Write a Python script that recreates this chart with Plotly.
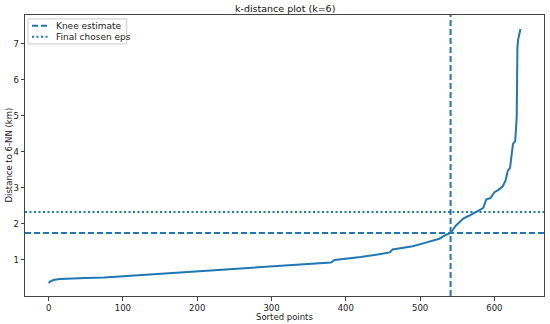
import plotly.graph_objects as go

# Sorted point index vs distance to 6th nearest neighbour
sorted_idx = [0, 2, 5, 8, 15, 30, 50, 75, 100, 130, 160, 180, 200, 230, 260, 300,
              330, 360, 380, 385, 400, 420, 445, 459, 463, 470, 490, 504, 526, 535,
              541, 548, 558, 565, 575, 580, 585, 589, 595, 600, 605, 611, 615, 618,
              621, 625, 628, 629, 630, 631, 632, 635]
kdist_km = [0.36, 0.40, 0.43, 0.45, 0.47, 0.49, 0.50, 0.515, 0.55, 0.58, 0.615, 0.645,
            0.67, 0.715, 0.77, 0.83, 0.87, 0.90, 0.93, 1.00, 1.03, 1.08, 1.16, 1.21,
            1.29, 1.31, 1.38, 1.46, 1.59, 1.70, 1.75, 1.95, 2.15, 2.22, 2.32, 2.38,
            2.45, 2.68, 2.72, 2.88, 2.94, 3.04, 3.20, 3.48, 3.55, 4.22, 4.30, 4.86,
            4.95, 6.90, 7.12, 7.41]

knee_index = 541
knee_eps = 1.75
final_eps = 2.33

x_ticks = [0, 100, 200, 300, 400, 500, 600]
y_ticks = [1, 2, 3, 4, 5, 6, 7]

legend_labels = ["Knee estimate", "Final chosen eps"]

BLUE = "#1f77b4"
FONT = "DejaVu Sans"
TXT = "#222"
DASH = "6px,3px"
DOT = "2px,2.5px"

fig = go.Figure()
fig.add_trace(go.Scatter(x=sorted_idx, y=kdist_km, mode="lines",
                         line=dict(color=BLUE, width=2), showlegend=False))

# reference lines
fig.add_shape(type="line", xref="x", yref="paper", x0=knee_index, x1=knee_index,
              y0=0, y1=1, line=dict(color=BLUE, width=2, dash=DASH))
fig.add_shape(type="line", xref="paper", yref="y", x0=0, x1=1,
              y0=knee_eps, y1=knee_eps, line=dict(color=BLUE, width=2, dash=DASH))
fig.add_shape(type="line", xref="paper", yref="y", x0=0, x1=1,
              y0=final_eps, y1=final_eps, line=dict(color=BLUE, width=2, dash=DOT))

# compact matplotlib-style legend (box + handles + labels)
fig.add_shape(type="rect", xref="paper", yref="paper", x0=0.006, x1=0.196,
              y0=0.897, y1=0.986, line=dict(color="#cccccc", width=1),
              fillcolor="rgba(255,255,255,0.85)", layer="above")
for lbl, dash, yy in zip(legend_labels, [DASH, DOT], [0.962, 0.923]):
    fig.add_shape(type="line", xref="paper", yref="paper", x0=0.0135, x1=0.0445,
                  y0=yy, y1=yy, line=dict(color=BLUE, width=2, dash=dash), layer="above")
    fig.add_annotation(text=lbl, xref="paper", yref="paper", x=0.056, y=yy,
                       xanchor="left", yanchor="middle", showarrow=False,
                       font=dict(family=FONT, size=9, color=TXT))

axis_common = dict(showgrid=False, zeroline=False, showline=True, mirror=True,
                   linecolor="#444", linewidth=1, ticks="outside", ticklen=3.5,
                   tickcolor="#444", tickfont=dict(family=FONT, size=8.5, color=TXT),
                   automargin=False)

fig.update_xaxes(range=[-31.75, 666.75], tickvals=x_ticks, **axis_common)
fig.update_yaxes(range=[0.0, 7.8], tickvals=y_ticks, **axis_common)

# titles as annotations for exact placement
fig.add_annotation(text="Sorted points", xref="paper", yref="paper", x=0.5, y=0,
                   yshift=-21, xanchor="center", yanchor="middle", showarrow=False,
                   font=dict(family=FONT, size=8.5, color=TXT))
fig.add_annotation(text="Distance to 6-NN (km)", xref="paper", yref="paper", x=0, y=0.5,
                   xshift=-17, xanchor="center", yanchor="middle", textangle=-90,
                   showarrow=False, font=dict(family=FONT, size=8.5, color=TXT))
fig.add_annotation(text="k-distance plot (k=6)", xref="paper", yref="paper", x=0.5, y=1,
                   yshift=7, xanchor="center", yanchor="middle", showarrow=False,
                   font=dict(family=FONT, size=9.5, color="#111"))

fig.update_layout(
    width=550, height=324,
    margin=dict(l=25, r=6, t=15, b=28),
    plot_bgcolor="white", paper_bgcolor="white",
    showlegend=False,
    font=dict(family=FONT),
)

fig.write_html("out.html", config={"displayModeBar": False},
               post_script="document.body.style.margin='0';document.body.style.overflow='hidden';")
